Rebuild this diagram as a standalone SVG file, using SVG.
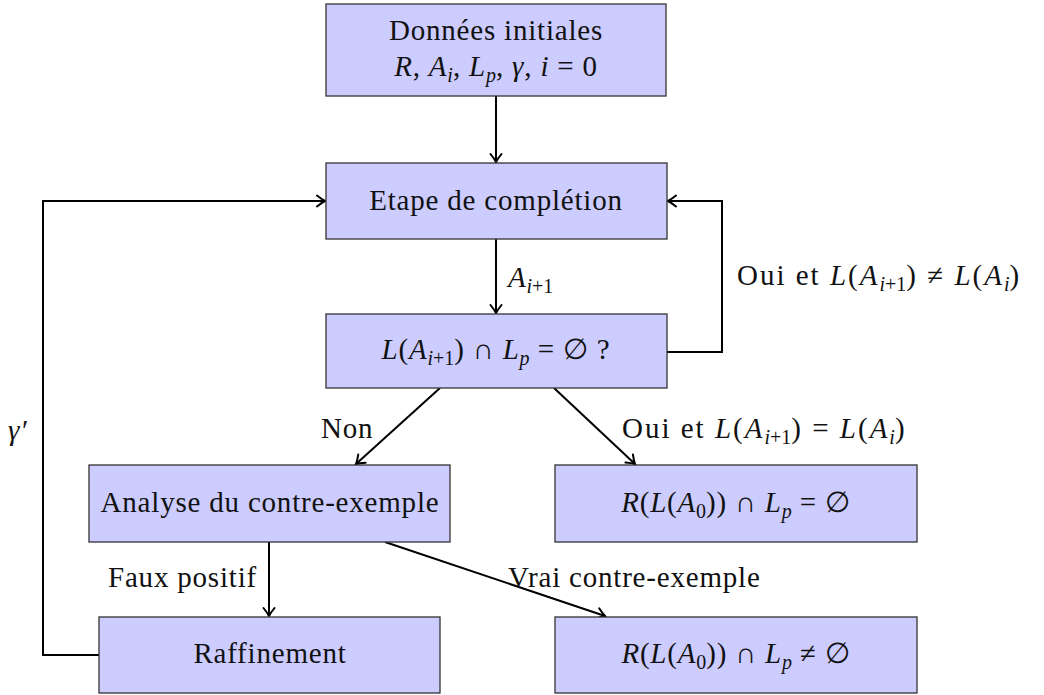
<svg xmlns="http://www.w3.org/2000/svg" width="1044" height="695" viewBox="0 0 1044 695">
<style>
.box{fill:#ccccff;stroke:#333;stroke-width:1.3}
text{font-family:"Liberation Serif","DejaVu Serif",serif;font-size:29px;letter-spacing:0.8px;fill:#111}
.c{text-anchor:middle}
.i{font-style:italic}
.s{font-size:20px;letter-spacing:0}
.w{letter-spacing:2px}
.ln{fill:none;stroke:#000;stroke-width:2}
</style>
<defs>
<marker id="ar" markerUnits="userSpaceOnUse" viewBox="-10 -7 12 14" refX="0" refY="0" markerWidth="12" markerHeight="14" orient="auto">
<path d="M-8,-5.5 Q-3,-1.5 0,0 Q-3,1.5 -8,5.5" fill="none" stroke="#000" stroke-width="2" stroke-linecap="round"/>
</marker>
</defs>
<g id="connectors">
<line class="ln" x1="496" y1="96" x2="496" y2="162" marker-end="url(#ar)"/>
<line class="ln" x1="496" y1="239" x2="496" y2="313" marker-end="url(#ar)"/>
<polyline class="ln" points="667,352 722,352 722,201 668,201" marker-end="url(#ar)"/>
<line class="ln" x1="440" y1="388" x2="356" y2="464" marker-end="url(#ar)"/>
<line class="ln" x1="554" y1="388" x2="635" y2="464" marker-end="url(#ar)"/>
<line class="ln" x1="269" y1="542" x2="269" y2="616" marker-end="url(#ar)"/>
<line class="ln" x1="385" y1="542" x2="605" y2="616" marker-end="url(#ar)"/>
<polyline class="ln" points="99,655 43,655 43,201 325,201" marker-end="url(#ar)"/>
<text x="508" y="287"><tspan class="i">A</tspan><tspan class="s" dy="6"><tspan class="i">i</tspan>+1</tspan></text>
<text x="737" y="285" class="w">Oui et <tspan class="i">L</tspan>(<tspan class="i">A</tspan><tspan class="s" dy="6"><tspan class="i">i</tspan>+1</tspan><tspan dy="-6">)  ≠  </tspan><tspan class="i">L</tspan>(<tspan class="i">A</tspan><tspan class="s i" dy="6">i</tspan><tspan dy="-6">)</tspan></text>
<text x="321" y="438">Non</text>
<text x="622" y="438" class="w">Oui et <tspan class="i">L</tspan>(<tspan class="i">A</tspan><tspan class="s" dy="6"><tspan class="i">i</tspan>+1</tspan><tspan dy="-6">)  =  </tspan><tspan class="i">L</tspan>(<tspan class="i">A</tspan><tspan class="s i" dy="6">i</tspan><tspan dy="-6">)</tspan></text>
<text x="108" y="587">Faux positif</text>
<text x="508" y="587">Vrai contre-exemple</text>
<text x="8" y="440" class="i">γ′</text>
</g>
<g id="n1">
<rect class="box" x="326" y="4" width="340" height="92"/>
<text class="c" x="496" y="40">Données initiales</text>
<text class="c" x="496" y="76"><tspan class="i">R</tspan>, <tspan class="i">A</tspan><tspan class="s i" dy="6">i</tspan><tspan dy="-6">, </tspan><tspan class="i">L</tspan><tspan class="s i" dy="6">p</tspan><tspan dy="-6">, </tspan><tspan class="i">γ</tspan>, <tspan class="i">i</tspan> = 0</text>
</g>
<g id="n2">
<rect class="box" x="326" y="163" width="341" height="76"/>
<text class="c" x="496" y="210">Etape de complétion</text>
</g>
<g id="n3">
<rect class="box" x="326" y="314" width="341" height="74"/>
<text class="c" x="496" y="359"><tspan class="i">L</tspan>(<tspan class="i">A</tspan><tspan class="s" dy="6"><tspan class="i">i</tspan>+1</tspan><tspan dy="-6">) ∩ </tspan><tspan class="i">L</tspan><tspan class="s i" dy="6">p</tspan><tspan dy="-6"> = ∅ ?</tspan></text>
</g>
<g id="n4">
<rect class="box" x="89" y="465" width="361" height="77"/>
<text class="c" x="270" y="512">Analyse du contre-exemple</text>
</g>
<g id="n5">
<rect class="box" x="555" y="465" width="362" height="77"/>
<text class="c" x="736" y="512"><tspan class="i">R</tspan>(<tspan class="i">L</tspan>(<tspan class="i">A</tspan><tspan class="s" dy="6">0</tspan><tspan dy="-6">)) ∩ </tspan><tspan class="i">L</tspan><tspan class="s i" dy="6">p</tspan><tspan dy="-6"> = ∅</tspan></text>
</g>
<g id="n6">
<rect class="box" x="99" y="617" width="341" height="76"/>
<text class="c" x="270" y="663">Raffinement</text>
</g>
<g id="n7">
<rect class="box" x="555" y="617" width="362" height="76"/>
<text class="c" x="736" y="663"><tspan class="i">R</tspan>(<tspan class="i">L</tspan>(<tspan class="i">A</tspan><tspan class="s" dy="6">0</tspan><tspan dy="-6">)) ∩ </tspan><tspan class="i">L</tspan><tspan class="s i" dy="6">p</tspan><tspan dy="-6"> ≠ ∅</tspan></text>
</g>
</svg>
